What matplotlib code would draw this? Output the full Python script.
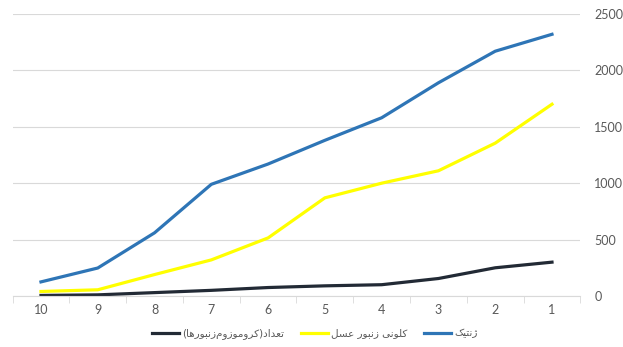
import matplotlib
matplotlib.use("Agg")
import matplotlib.pyplot as plt

# categories (x axis shown right-to-left)
categories = [1, 2, 3, 4, 5, 6, 7, 8, 9, 10]
genetics = [2320, 2170, 1890, 1580, 1380, 1170, 990, 560, 248, 125]
bee_colony = [1700, 1355, 1110, 1000, 870, 515, 320, 190, 55, 40]
chromosomes = [300, 250, 155, 100, 90, 75, 50, 30, 10, 5]
y_ticks = [0, 500, 1000, 1500, 2000, 2500]

label_genetics = "ژنتیک"
label_colony = "کلونی زنبور عسل"
label_chrom = "تعداد(کروموزوم\u200cزنبورها)"

# presentation forms: isolated, final, initial, medial
FORMS = {
    "ا": ("\uFE8D", "\uFE8E", None, None),
    "ب": ("\uFE8F", "\uFE90", "\uFE91", "\uFE92"),
    "ت": ("\uFE95", "\uFE96", "\uFE97", "\uFE98"),
    "د": ("\uFEA9", "\uFEAA", None, None),
    "ر": ("\uFEAD", "\uFEAE", None, None),
    "ز": ("\uFEAF", "\uFEB0", None, None),
    "ژ": ("\uFB8A", "\uFB8B", None, None),
    "س": ("\uFEB1", "\uFEB2", "\uFEB3", "\uFEB4"),
    "ع": ("\uFEC9", "\uFECA", "\uFECB", "\uFECC"),
    "ک": ("\uFB8E", "\uFB8F", "\uFB90", "\uFB91"),
    "ل": ("\uFEDD", "\uFEDE", "\uFEDF", "\uFEE0"),
    "م": ("\uFEE1", "\uFEE2", "\uFEE3", "\uFEE4"),
    "ن": ("\uFEE5", "\uFEE6", "\uFEE7", "\uFEE8"),
    "ه": ("\uFEE9", "\uFEEA", "\uFEEB", "\uFEEC"),
    "و": ("\uFEED", "\uFEEE", None, None),
    "ی": ("\uFBFC", "\uFBFD", "\uFBFE", "\uFBFF"),
}


def dual(c):
    return c in FORMS and FORMS[c][2] is not None


def shape(text):
    # simple arabic/persian shaping + reversal, matplotlib has no bidi
    out = []
    for i, c in enumerate(text):
        if c not in FORMS:
            if c != "\u200c":
                out.append(c)
            continue
        prev = text[i - 1] if i > 0 else ""
        nxt = text[i + 1] if i + 1 < len(text) else ""
        jp = dual(prev)
        jn = dual(c) and nxt in FORMS
        if jp and jn:
            f = FORMS[c][3]
        elif jp:
            f = FORMS[c][1]
        elif jn:
            f = FORMS[c][2]
        else:
            f = FORMS[c][0]
        out.append(f)
    vis = "".join(reversed(out))
    return vis.translate(str.maketrans("()", ")("))


plt.rcParams["font.family"] = ["DejaVu Sans"]

fig = plt.figure(figsize=(6.23, 3.47), dpi=100)
ax = fig.add_axes([0.0202, 0.147, 0.9114, 0.8127])

ax.plot(categories, chromosomes, color="#222A35", lw=2.3, label=shape(label_chrom))
ax.plot(categories, bee_colony, color="#FFFF00", lw=2.3, label=shape(label_colony))
ax.plot(categories, genetics, color="#2E75B6", lw=2.3, label=shape(label_genetics))

ax.set_xlim(10.5, 0.5)
ax.set_ylim(0, 2500)
ax.set_yticks(y_ticks)
ax.set_xticks(categories)
ax.set_xticks([c + 0.5 for c in [0] + categories], minor=True)
ax.yaxis.tick_right()
ax.tick_params(axis="y", length=0, pad=10, labelsize=9, colors="#595959")
ax.tick_params(axis="x", which="major", length=0, pad=6, labelsize=9, colors="#595959")
ax.tick_params(axis="x", which="minor", length=5, color="#d9d9d9", direction="out")
for lbl in ax.get_xticklabels() + ax.get_yticklabels():
    lbl.set_fontfamily("Lato")
ax.grid(axis="y", color="#d9d9d9", lw=0.8)
ax.set_axisbelow(True)
for s in ["top", "left", "right"]:
    ax.spines[s].set_visible(False)
ax.spines["bottom"].set_color("#d9d9d9")

fig.legend(loc="lower center", bbox_to_anchor=(0.505, -0.005), ncol=3, frameon=False,
           fontsize=7.5, handlelength=2.6, columnspacing=1.6, handletextpad=0.3,
           labelcolor="#595959")

fig.savefig("out.png", dpi=100, facecolor="white")
